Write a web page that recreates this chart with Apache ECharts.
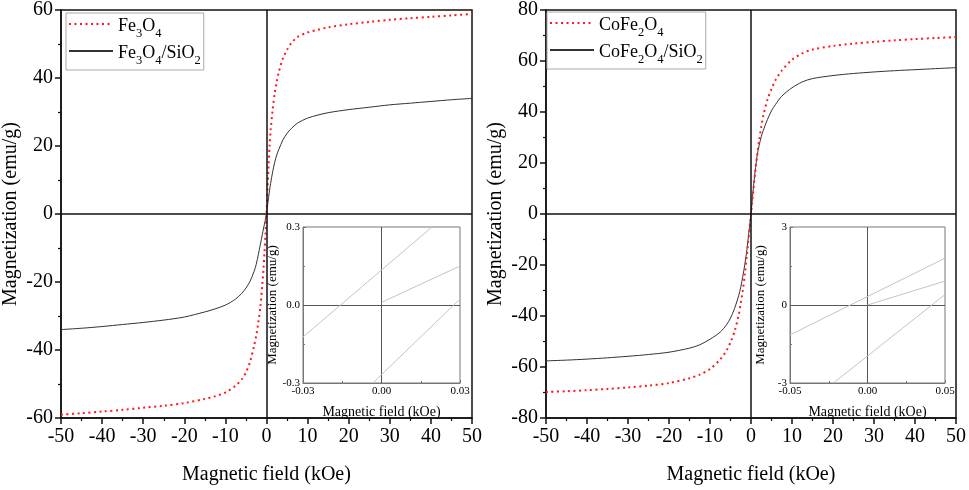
<!DOCTYPE html>
<html>
<head>
<meta charset="utf-8">
<script src="https://cdn.jsdelivr.net/npm/echarts@6/dist/echarts.min.js"></script>
<style>
  html, body { margin: 0; padding: 0; background: #fff; }
  #chart { width: 969px; height: 490px; }
</style>
</head>
<body>
<div id="chart"></div>
<script>
// magnetic field points (kOe), shared by all four main curves
var field = [-50, -45, -40, -35, -30, -25, -20, -15, -12.5, -10, -7.5, -6, -5, -4, -3, -2.5, -2, -1.5, -1, -0.75, -0.5, -0.25, 0,
  0.25, 0.5, 0.75, 1, 1.5, 2, 2.5, 3, 4, 5, 6, 7.5, 10, 12.5, 15, 20, 25, 30, 35, 40, 45, 50];

// magnetization (emu/g)
var fe3o4 = [-59, -58.6, -58.1, -57.6, -57, -56.4, -55.6, -54.4, -53.6, -52.5, -50.5, -48.6, -46.6, -43.5, -38.6, -35.8, -32, -27.4, -20.5, -16.5, -11.5, -6, 0,
  7, 14, 20, 24.5, 30.7, 35.5, 39, 41.8, 45.8, 48.3, 50.2, 52, 53.4, 54.2, 54.9, 55.8, 56.5, 57.1, 57.6, 58, 58.4, 58.8];
var fe3o4Si = [-34, -33.6, -33.1, -32.5, -31.9, -31.2, -30.3, -28.8, -27.9, -26.8, -25, -23.3, -21.8, -19.8, -16.8, -14.8, -12, -9, -6, -4.4, -3, -1.5, 0,
  2.4, 4.8, 7, 9, 12.4, 15.2, 17.4, 19, 21.8, 23.7, 25.1, 26.7, 28.2, 29.1, 29.8, 30.7, 31.4, 32.1, 32.6, 33.1, 33.6, 34];
var cofe = [-69.8, -69.5, -69.1, -68.6, -68, -67.3, -66.3, -64.4, -63, -60.8, -57, -53.6, -50.3, -46, -39.6, -35, -30, -23.6, -16, -12, -8, -4, 0,
  4, 8, 12, 16, 23, 29, 34.2, 38.5, 44.8, 49, 52.6, 56.2, 60.5, 63, 64.5, 65.9, 66.8, 67.5, 68.1, 68.6, 69, 69.4];
var cofeSi = [-57.6, -57.3, -56.9, -56.4, -55.8, -55.1, -54.2, -52.6, -51.3, -49.1, -46.3, -43.5, -40.8, -37, -32, -28.7, -24.5, -19.7, -14, -10.5, -7, -3.5, 0,
  4.5, 9, 13, 16.8, 22.9, 27, 30.3, 32.8, 37, 40.5, 43, 46.2, 49.5, 51.8, 53.1, 54.3, 55.1, 55.7, 56.2, 56.6, 57, 57.4];

// inset (low field) branches: [x0, x1] and [y0, y1]
var insetL1x = [-0.03, 0.0193], insetL1y = [-0.123, 0.3];
var insetL2x = [0, 0.03], insetL2y = [0.01, 0.15];
var insetL3x = [-0.0033, 0.03], insetL3y = [-0.3, 0.023];
var insetR1x = [-0.05, 0.05], insetR1y = [-1.15, 1.8];
var insetR2x = [0, 0.05], insetR2y = [0, 0.92];
var insetR3x = [-0.022, 0.05], insetR3y = [-3, 0.4];

var FONT = 'Liberation Serif';
var legendRich = {
  n: { fontFamily: FONT, fontSize: 18, color: '#000', verticalAlign: 'bottom', lineHeight: 22 },
  s: { fontFamily: FONT, fontSize: 12.5, color: '#000', verticalAlign: 'bottom', lineHeight: 16, padding: [0, 0, -5, 0] }
};
var legendText = {
  'Fe3O4': '{n|Fe}{s|3}{n|O}{s|4}',
  'Fe3O4/SiO2': '{n|Fe}{s|3}{n|O}{s|4}{n|/SiO}{s|2}',
  'CoFe2O4': '{n|CoFe}{s|2}{n|O}{s|4}',
  'CoFe2O4/SiO2': '{n|CoFe}{s|2}{n|O}{s|4}{n|/SiO}{s|2}'
};

function pairs(xs, ys) {
  return xs.map(function (x, i) { return [x, ys[i]]; });
}

function mainX(idx) {
  return {
    type: 'value', gridIndex: idx, min: -50, max: 50, interval: 10,
    name: 'Magnetic field (kOe)', nameLocation: 'middle', nameGap: 47,
    nameTextStyle: { fontFamily: FONT, fontSize: 20, color: '#000' },
    axisLine: { onZero: false, lineStyle: { color: '#111', width: 1.5 } },
    axisTick: { length: 6, lineStyle: { color: '#111', width: 1.5 } },
    minorTick: { show: true, splitNumber: 2, length: 3, lineStyle: { color: '#111', width: 1.2 } },
    axisLabel: { fontFamily: FONT, fontSize: 20, color: '#000', margin: 9 },
    splitLine: { show: false }
  };
}
function mainY(idx, lim, gap) {
  return {
    type: 'value', gridIndex: idx, min: -lim, max: lim, interval: 20,
    name: 'Magnetization (emu/g)', nameLocation: 'middle', nameGap: gap,
    nameTextStyle: { fontFamily: FONT, fontSize: 20, color: '#000' },
    axisLine: { onZero: false, lineStyle: { color: '#111', width: 1.5 } },
    axisTick: { length: 6, lineStyle: { color: '#111', width: 1.5 } },
    minorTick: { show: true, splitNumber: 2, length: 3, lineStyle: { color: '#111', width: 1.2 } },
    axisLabel: { fontFamily: FONT, fontSize: 20, color: '#000', margin: 8 },
    splitLine: { show: false }
  };
}
function insetX(idx, lim, digits) {
  return {
    type: 'value', gridIndex: idx, min: -lim, max: lim, interval: lim,
    name: 'Magnetic field (kOe)', nameLocation: 'middle', nameGap: 22,
    nameTextStyle: { fontFamily: FONT, fontSize: 14, color: '#000' },
    axisLine: { onZero: false, lineStyle: { color: '#777', width: 1 } },
    axisTick: { inside: true, length: 3, lineStyle: { color: '#777' } },
    minorTick: { show: true, splitNumber: 2, length: 2, lineStyle: { color: '#777' } },
    axisLabel: { fontFamily: FONT, fontSize: 11, color: '#000', margin: 3,
      formatter: function (v) { return v.toFixed(digits); } },
    splitLine: { show: false }
  };
}
function insetY(idx, lim, digits) {
  return {
    type: 'value', gridIndex: idx, min: -lim, max: lim, interval: lim,
    name: 'Magnetization (emu/g)', nameLocation: 'middle', nameGap: 23,
    nameTextStyle: { fontFamily: FONT, fontSize: 13, color: '#000' },
    axisLine: { onZero: false, lineStyle: { color: '#777', width: 1 } },
    axisTick: { inside: true, length: 3, lineStyle: { color: '#777' } },
    minorTick: { show: true, splitNumber: 2, length: 2, lineStyle: { color: '#777' } },
    axisLabel: { fontFamily: FONT, fontSize: 11, color: '#000', margin: 3,
      formatter: function (v) { return v.toFixed(digits); } },
    splitLine: { show: false }
  };
}

function zeroLines(color, width) {
  return {
    silent: true, symbol: 'none', animation: false,
    label: { show: false },
    lineStyle: { color: color, width: width, type: 'solid' },
    data: [{ xAxis: 0 }, { yAxis: 0 }]
  };
}

function curve(name, idx, ys, dotted) {
  return {
    name: name, type: 'line', xAxisIndex: idx, yAxisIndex: idx,
    data: pairs(field, ys), symbol: 'none', smooth: 0.3,
    lineStyle: dotted ? { color: '#ff1a1a', width: 2, type: [2, 3.5] } : { color: '#333', width: 1 },
    itemStyle: { color: dotted ? '#ff1a1a' : '#333' },
    z: dotted ? 3 : 2
  };
}
function insetLine(idx, xs, ys) {
  return {
    type: 'line', xAxisIndex: idx, yAxisIndex: idx, data: pairs(xs, ys),
    symbol: 'none', silent: true, z: 6, lineStyle: { color: '#c4c4c4', width: 1 }
  };
}

var legendBase = {
  orient: 'vertical', itemWidth: 44, itemHeight: 14, itemGap: 4,
  backgroundColor: '#fff', borderColor: '#aaa', borderWidth: 1,
  padding: [4, 3, 3, 2],
  itemStyle: { opacity: 0 },
  textStyle: { rich: legendRich },
  formatter: function (name) { return legendText[name] || name; }
};

var myChart = echarts.init(document.getElementById('chart'));
myChart.setOption({
  animation: false,
  backgroundColor: '#fff',
  grid: [
    { left: 60, top: 9, width: 412, height: 414, show: true, borderColor: '#111', borderWidth: 1.5 },
    { left: 546, top: 9, width: 411, height: 414, show: true, borderColor: '#111', borderWidth: 1.5 },
    { left: 303, top: 227, width: 157, height: 156, show: true, borderColor: '#777', borderWidth: 1, backgroundColor: '#fff' },
    { left: 790, top: 227, width: 155, height: 156, show: true, borderColor: '#777', borderWidth: 1, backgroundColor: '#fff' }
  ],
  legend: [
    Object.assign({ left: 66, top: 13, data: ['Fe3O4', 'Fe3O4/SiO2'] }, legendBase),
    Object.assign({ left: 547, top: 12, data: ['CoFe2O4', 'CoFe2O4/SiO2'] }, legendBase)
  ],
  xAxis: [mainX(0), mainX(1), insetX(2, 0.03, 2), insetX(3, 0.05, 2)],
  yAxis: [mainY(0, 60, 40), mainY(1, 80, 40), insetY(2, 0.3, 1), insetY(3, 3, 0)],
  series: [
    Object.assign(curve('Fe3O4/SiO2', 0, fe3o4Si, false), { markLine: zeroLines('#111', 1.5) }),
    curve('Fe3O4', 0, fe3o4, true),
    Object.assign(curve('CoFe2O4/SiO2', 1, cofeSi, false), { markLine: zeroLines('#111', 1.5) }),
    curve('CoFe2O4', 1, cofe, true),
    Object.assign(insetLine(2, insetL1x, insetL1y), { markLine: zeroLines('#555', 1) }),
    insetLine(2, insetL2x, insetL2y),
    insetLine(2, insetL3x, insetL3y),
    Object.assign(insetLine(3, insetR1x, insetR1y), { markLine: zeroLines('#555', 1) }),
    insetLine(3, insetR2x, insetR2y),
    insetLine(3, insetR3x, insetR3y)
  ]
});
</script>
</body>
</html>
